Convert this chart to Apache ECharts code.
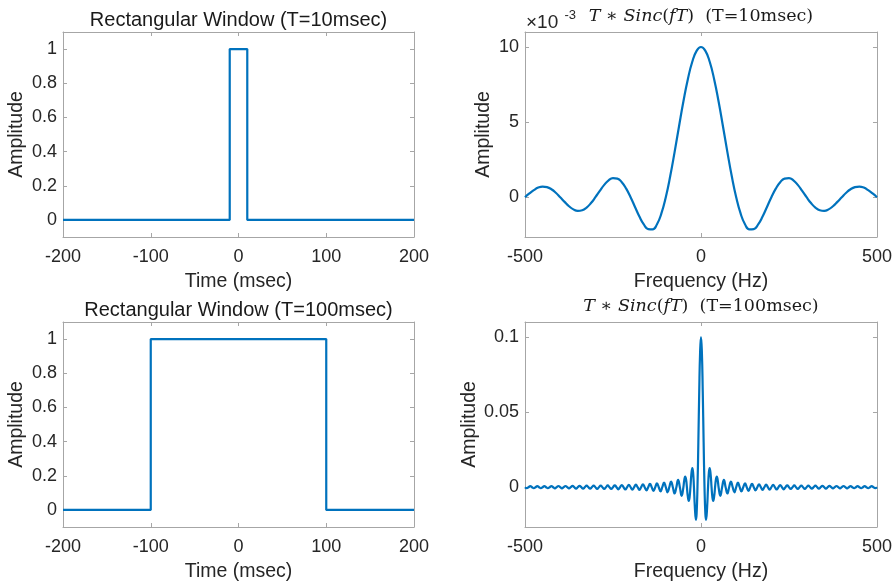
<!DOCTYPE html>
<html><head><meta charset="utf-8">
<script src="https://cdn.jsdelivr.net/npm/echarts@6/dist/echarts.min.js"></script>
<style>html,body{margin:0;padding:0;background:#fff}#c{width:895px;height:587px}</style>
</head><body><div id="c"></div>
<script>
// ---------- data ----------
const time10 = [-200, -10, -10, 10, 10, 200];
const rect10 = [0, 0, 1, 1, 0, 0];
const time100 = [-200, -100, -100, 100, 100, 200];
const rect100 = [0, 0, 1, 1, 0, 0];

// T*Sinc(fT), T=10 msec, amplitude in units of 1e-3
const freq10 = [-500,-487.5,-475,-462.5,-450,-437.5,-425,-412.5,-400,-387.5,-375,-362.5,-350,-337.5,-325,-312.5,-300,-287.5,-275,-262.5,-250,-237.5,-225,-212.5,-200,-187.5,-175,-162.5,-150,-137.5,-125,-112.5,-100,-87.5,-75,-62.5,-50,-37.5,-25,-12.5,
  0,12.5,25,37.5,50,62.5,75,87.5,100,112.5,125,137.5,150,162.5,175,187.5,200,212.5,225,237.5,250,262.5,275,287.5,300,312.5,325,337.5,350,362.5,375,387.5,400,412.5,425,437.5,450,462.5,475,487.5,500];
const sinc10 = [0,0.25,0.47,0.64,0.71,0.67,0.53,0.30,0,-0.31,-0.60,-0.81,-0.91,-0.87,-0.69,-0.39,0,0.42,0.82,1.12,1.27,1.24,1.00,0.57,0,-0.65,-1.29,-1.81,-2.12,-2.14,-1.80,-1.08,0,1.39,3.00,4.71,6.37,7.84,9.00,9.74,
  10,9.74,9.00,7.84,6.37,4.71,3.00,1.39,0,-1.08,-1.80,-2.14,-2.12,-1.81,-1.29,-0.65,0,0.57,1.00,1.24,1.27,1.12,0.82,0.42,0,-0.39,-0.69,-0.87,-0.91,-0.81,-0.60,-0.31,0,0.30,0.53,0.67,0.71,0.64,0.47,0.25,0];

// T*Sinc(fT), T=100 msec
const freq100 = [-500,-495,-490,-485,-480,-475,-470,-465,-460,-455,-450,-445,-440,-435,-430,-425,-420,-415,-410,-405,-400,-395,-390,-385,-380,-375,-370,-365,-360,-355,-350,-345,-340,-335,-330,-325,-320,-315,-310,-305,-300,-295,-290,-285,-280,-275,-270,-265,-260,-255,-250,-245,-240,-235,-230,-225,-220,-215,-210,-205,-200,-195,-190,-185,-180,-175,-170,-165,-160,-155,-150,-145,-140,-135,-130,-125,-120,-115,-110,-105,-100,-95,-90,-85,-80,-75,-70,-65,-60,-55,-50,
  -47.5,-44.8,-42.5,-40,-37.5,-34.7,-32.5,-30,-27.5,-24.6,-22.5,-20,-17.5,-14.3,-12.5,-10,-7.5,-5,-2.5,0,
  2.5,5,7.5,10,12.5,14.3,17.5,20,22.5,24.6,27.5,30,32.5,34.7,37.5,40,42.5,44.8,47.5,
  50,55,60,65,70,75,80,85,90,95,100,105,110,115,120,125,130,135,140,145,150,155,160,165,170,175,180,185,190,195,200,205,210,215,220,225,230,235,240,245,250,255,260,265,270,275,280,285,290,295,300,305,310,315,320,325,330,335,340,345,350,355,360,365,370,375,380,385,390,395,400,405,410,415,420,425,430,435,440,445,450,455,460,465,470,475,480,485,490,495,500];
const sinc100 = [0,-0.0006,0,0.0007,0,-0.0007,0,0.0007,0,-0.0007,0,0.0007,0,-0.0007,0,0.0007,0,-0.0008,0,0.0008,0,-0.0008,0,0.0008,0,-0.0008,0,0.0009,0,-0.0009,0,0.0009,0,-0.001,0,0.001,0,-0.001,0,0.001,0,-0.0011,0,0.0011,0,-0.0012,0,0.0012,0,-0.0012,0,0.0013,0,-0.0014,0,0.0014,0,-0.0015,0,0.0016,0,-0.0016,0,0.0017,0,-0.0018,0,0.0019,0,-0.0021,0,0.0022,0,-0.0024,0,0.0025,0,-0.0028,0,0.003,0,-0.0034,0,0.0037,0,-0.0042,0,0.0049,0,-0.0058,0,
  0.0047,0.0071,0.0053,0,-0.006,-0.0091,-0.0069,0,0.0082,0.0128,0.01,0,-0.0129,-0.0217,-0.018,0,0.03,0.0637,0.09,0.1,
  0.09,0.0637,0.03,0,-0.018,-0.0217,-0.0129,0,0.01,0.0128,0.0082,0,-0.0069,-0.0091,-0.006,0,0.0053,0.0071,0.0047,
  0,-0.0058,0,0.0049,0,-0.0042,0,0.0037,0,-0.0034,0,0.003,0,-0.0028,0,0.0025,0,-0.0024,0,0.0022,0,-0.0021,0,0.0019,0,-0.0018,0,0.0017,0,-0.0016,0,0.0016,0,-0.0015,0,0.0014,0,-0.0014,0,0.0013,0,-0.0012,0,0.0012,0,-0.0012,0,0.0011,0,-0.0011,0,0.001,0,-0.001,0,0.001,0,-0.001,0,0.0009,0,-0.0009,0,0.0009,0,-0.0008,0,0.0008,0,-0.0008,0,0.0008,0,-0.0008,0,0.0007,0,-0.0007,0,0.0007,0,-0.0007,0,0.0007,0,-0.0007,0,0.0007,0,-0.0006,0];

const timeTicks = [-200, -100, 0, 100, 200];
const rectYTicks = [0, 0.2, 0.4, 0.6, 0.8, 1];
const freqTicks = [-500, 0, 500];
const sinc10YTicks = [0, 5, 10];
const sinc100YTicks = [0, 0.05, 0.1];

// ---------- styling ----------
const SANS = "'Liberation Sans', Arial, Helvetica, sans-serif";
const SERIF = "'DejaVu Serif', 'Liberation Serif', serif";
const AX = '#a6a6a6';
const TXT = '#262626';
const LINE = '#0072BD';

const grids = [
  { left: 63, top: 32, width: 351, height: 205 },
  { left: 525, top: 32, width: 352, height: 205 },
  { left: 63, top: 322, width: 351, height: 205 },
  { left: 525, top: 322, width: 352, height: 205 }
];

function xAx(g, min, max, ticks, name, top) {
  return {
    type: 'value', gridIndex: g, min: min, max: max, position: top ? 'top' : 'bottom',
    axisLine: { show: true, onZero: false, lineStyle: { color: AX, width: 1 } },
    axisTick: { show: true, inside: true, length: 4, customValues: ticks, lineStyle: { color: AX } },
    axisLabel: { show: !top, customValues: ticks, color: TXT, fontSize: 18, fontFamily: SANS, margin: 11 },
    splitLine: { show: false },
    name: top ? '' : name, nameLocation: 'middle', nameGap: 35,
    nameTextStyle: { color: TXT, fontSize: 19.5, fontFamily: SANS }
  };
}
function yAx(g, min, max, ticks, name, gap, right) {
  return {
    type: 'value', gridIndex: g, min: min, max: max, position: right ? 'right' : 'left',
    axisLine: { show: true, onZero: false, lineStyle: { color: AX, width: 1 } },
    axisTick: { show: true, inside: true, length: 4, customValues: ticks, lineStyle: { color: AX } },
    axisLabel: { show: !right, customValues: ticks, color: TXT, fontSize: 18, fontFamily: SANS, margin: 6 },
    splitLine: { show: false },
    name: right ? '' : name, nameLocation: 'middle', nameGap: gap,
    nameTextStyle: { color: TXT, fontSize: 19.5, fontFamily: SANS }
  };
}

const xAxis = [
  xAx(0, -200, 200, timeTicks, 'Time (msec)', false), xAx(0, -200, 200, timeTicks, '', true),
  xAx(1, -500, 500, freqTicks, 'Frequency (Hz)', false), xAx(1, -500, 500, freqTicks, '', true),
  xAx(2, -200, 200, timeTicks, 'Time (msec)', false), xAx(2, -200, 200, timeTicks, '', true),
  xAx(3, -500, 500, freqTicks, 'Frequency (Hz)', false), xAx(3, -500, 500, freqTicks, '', true)
];
const yAxis = [
  yAx(0, -0.1, 1.1, rectYTicks, 'Amplitude', 36, false), yAx(0, -0.1, 1.1, rectYTicks, '', 0, true),
  yAx(1, -2.65, 11, sinc10YTicks, 'Amplitude', 31, false), yAx(1, -2.65, 11, sinc10YTicks, '', 0, true),
  yAx(2, -0.1, 1.1, rectYTicks, 'Amplitude', 36, false), yAx(2, -0.1, 1.1, rectYTicks, '', 0, true),
  yAx(3, -0.0265, 0.11, sinc100YTicks, 'Amplitude', 44, false), yAx(3, -0.0265, 0.11, sinc100YTicks, '', 0, true)
];

function zip(a, b) { return a.map((v, i) => [v, b[i]]); }
function line(xi, yi, data, smooth) {
  return {
    type: 'line', xAxisIndex: xi, yAxisIndex: yi, data: data, showSymbol: false, symbol: 'none',
    smooth: smooth, lineStyle: { color: LINE, width: 2.2 }, animation: false, silent: true
  };
}

const series = [
  line(0, 0, zip(time10, rect10), false),
  line(2, 2, zip(freq10, sinc10), true),
  line(4, 4, zip(time100, rect100), false),
  line(6, 6, zip(freq100, sinc100), true)
];

function title(x, y, text) {
  return { type: 'text', x: x, y: y, silent: true,
    style: { text: text, fontSize: 20, fontFamily: SANS, fill: '#1a1a1a', align: 'center', verticalAlign: 'middle' } };
}
const mathRich = {
  i: { fontFamily: SERIF, fontStyle: 'italic', fontSize: 17.5, fill: '#1a1a1a' },
  n: { fontFamily: SERIF, fontStyle: 'normal', fontSize: 17.5, fill: '#1a1a1a' }
};
function mathTitle(x, y, tlabel) {
  return { type: 'text', x: x, y: y, silent: true,
    style: { text: '{i|T} {n|∗} {i|Sinc}{n|(}{i|fT}{n|)}  {n|(T=' + tlabel + ')}', rich: mathRich,
      fontSize: 17.5, fontFamily: SERIF, fill: '#1a1a1a', align: 'center', verticalAlign: 'middle' } };
}

const graphic = [
  title(238.5, 20.5, 'Rectangular Window (T=10msec)'),
  title(238.5, 310.5, 'Rectangular Window (T=100msec)'),
  mathTitle(701, 16, '10msec'),
  mathTitle(701, 306, '100msec'),
  { type: 'text', x: 526, y: 22.5, silent: true,
    style: { text: '×10', fontSize: 19, fontFamily: SANS, fill: TXT, align: 'left', verticalAlign: 'middle' } },
  { type: 'text', x: 564.5, y: 15.5, silent: true,
    style: { text: '-3', fontSize: 13, fontFamily: SANS, fill: TXT, align: 'left', verticalAlign: 'middle' } }
];

const chart = echarts.init(document.getElementById('c'), null, { renderer: 'canvas' });
chart.setOption({
  backgroundColor: '#ffffff',
  animation: false,
  grid: grids,
  xAxis: xAxis,
  yAxis: yAxis,
  series: series,
  graphic: graphic
});
</script>
</body></html>
